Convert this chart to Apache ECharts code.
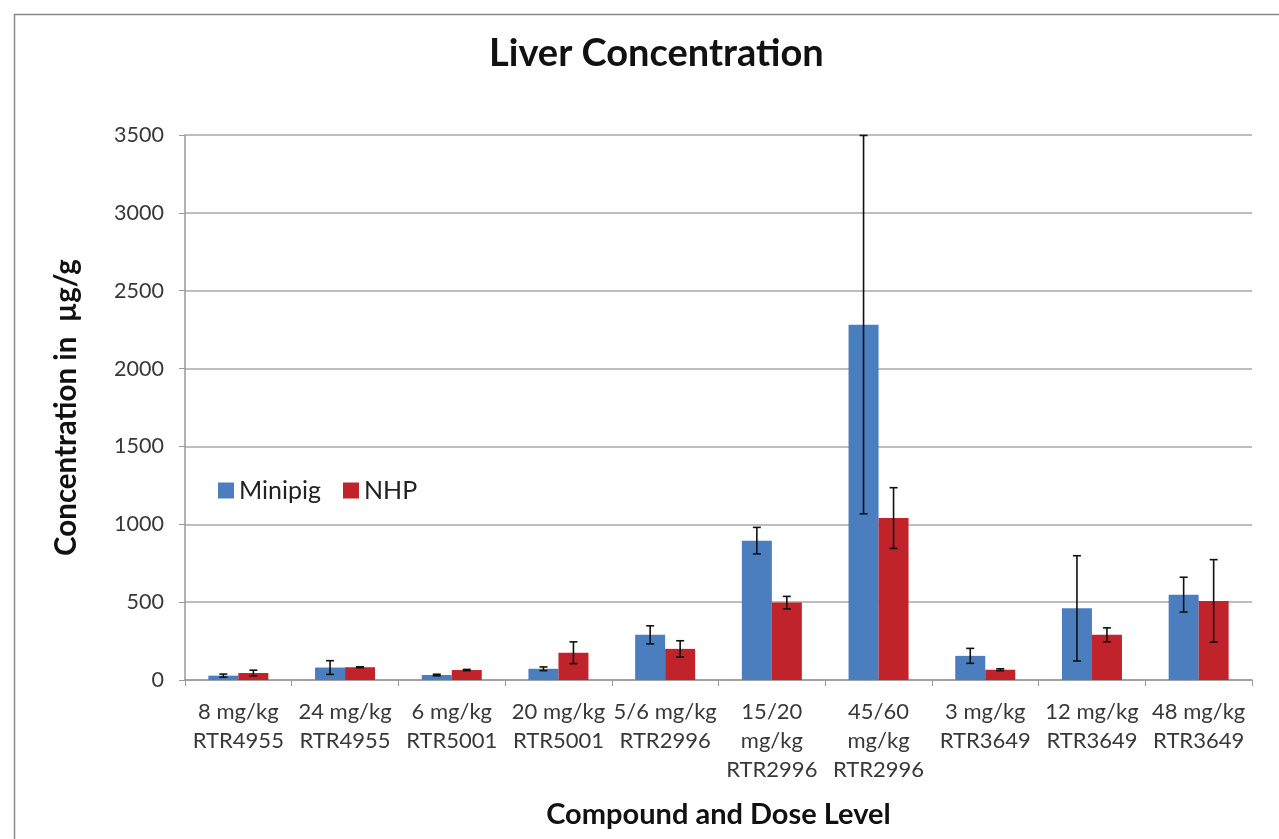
<!DOCTYPE html>
<html>
<head>
<meta charset="utf-8">
<script src="https://cdn.jsdelivr.net/npm/echarts@6/dist/echarts.min.js"></script>
<style>
html,body{margin:0;padding:0;background:#fff;}
#chart{width:1279px;height:839px;}
</style>
</head>
<body>
<div id="chart"></div>
<script>
var categories = [
  '8 mg/kg\nRTR4955', '24 mg/kg\nRTR4955', '6 mg/kg\nRTR5001', '20 mg/kg\nRTR5001',
  '5/6 mg/kg\nRTR2996', '15/20\nmg/kg\nRTR2996', '45/60\nmg/kg\nRTR2996',
  '3 mg/kg\nRTR3649', '12 mg/kg\nRTR3649', '48 mg/kg\nRTR3649'
];
var minipig    = [28, 80, 32, 72, 290, 895, 2282, 155, 460, 548];
var minipigErr = [10, 44, 5, 12, 58, 85, 1215, 48, 338, 112];
var nhp        = [45, 82, 64, 175, 200, 497, 1040, 66, 290, 508];
var nhpErr     = [18, 3, 4, 70, 52, 40, 195, 6, 45, 265];
var yTicks     = [0, 500, 1000, 1500, 2000, 2500, 3000, 3500];

var BLUE = '#4A7EBF', RED = '#C1232B';
var FONT = 'Lato';

function errSeries(name, vals, errs, offset) {
  return {
    type: 'custom',
    name: name + ' error',
    z: 5,
    silent: true,
    data: vals.map(function (v, i) { return [i, v, errs[i]]; }),
    renderItem: function (params, api) {
      var i = api.value(0), v = api.value(1), e = api.value(2);
      var hi = api.coord([i, Math.min(3500, v + e)]);
      var lo = api.coord([i, Math.max(0, v - e)]);
      var x = hi[0] + offset;
      var cap = 4;
      var st = { stroke: '#111', lineWidth: 1.6 };
      return {
        type: 'group',
        children: [
          { type: 'line', shape: { x1: x, y1: hi[1], x2: x, y2: lo[1] }, style: st },
          { type: 'line', shape: { x1: x - cap, y1: hi[1], x2: x + cap, y2: hi[1] }, style: st },
          { type: 'line', shape: { x1: x - cap, y1: lo[1], x2: x + cap, y2: lo[1] }, style: st }
        ]
      };
    }
  };
}

var chart = echarts.init(document.getElementById('chart'));
chart.setOption({
  animation: false,
  backgroundColor: '#fff',
  textStyle: { fontFamily: FONT },
  graphic: [{
    type: 'rect',
    left: 12, top: 12,
    shape: { width: 1300, height: 900 },
    style: { fill: 'none', stroke: '#8a8a8a', lineWidth: 1.5 },
    silent: true
  }],
  title: {
    text: 'Liver Concentration',
    left: 484,
    top: 30,
    textStyle: { fontFamily: FONT, fontSize: 38, fontWeight: 'bold', color: '#111' }
  },
  legend: {
    data: ['Minipig', 'NHP'],
    left: 213,
    top: 473,
    orient: 'horizontal',
    itemWidth: 16,
    itemHeight: 16,
    itemGap: 22,
    icon: 'rect',
    textStyle: { fontFamily: FONT, fontSize: 25, color: '#222' }
  },
  grid: { left: 185, right: 27, top: 135, bottom: 159 },
  xAxis: {
    type: 'category',
    data: categories,
    name: 'Compound and Dose Level',
    nameLocation: 'middle',
    nameGap: 120,
    nameTextStyle: { fontFamily: FONT, fontSize: 29, fontWeight: 'bold', color: '#111' },
    axisLine: { lineStyle: { color: '#999', width: 1.5 } },
    axisTick: { show: true, length: 6, lineStyle: { color: '#999' } },
    axisLabel: { fontFamily: FONT, fontSize: 22, color: '#383838', lineHeight: 29, margin: 17, interval: 0 }
  },
  yAxis: {
    type: 'value',
    min: 0, max: 3500, interval: 500,
    name: 'Concentration in  µg/g',
    nameLocation: 'middle',
    nameGap: 104,
    nameRotate: 90,
    nameTextStyle: { fontFamily: FONT, fontSize: 29.5, fontWeight: 'bold', color: '#111' },
    axisLine: { show: true, lineStyle: { color: '#999', width: 1.5 } },
    axisTick: { show: true, length: 6, lineStyle: { color: '#999' } },
    splitLine: { lineStyle: { color: '#a8a8a8', width: 1.5 } },
    axisLabel: {
      fontFamily: FONT, fontSize: 21.5, color: '#383838', margin: 21,
      formatter: function (v) { return yTicks.indexOf(v) >= 0 ? String(v) : ''; }
    }
  },
  series: [
    { type: 'bar', name: 'Minipig', data: minipig, barWidth: 30, barGap: '0%', itemStyle: { color: BLUE } },
    { type: 'bar', name: 'NHP', data: nhp, barWidth: 30, barGap: '0%', itemStyle: { color: RED } },
    errSeries('Minipig', minipig, minipigErr, -15),
    errSeries('NHP', nhp, nhpErr, 15)
  ]
});
</script>
</body>
</html>
